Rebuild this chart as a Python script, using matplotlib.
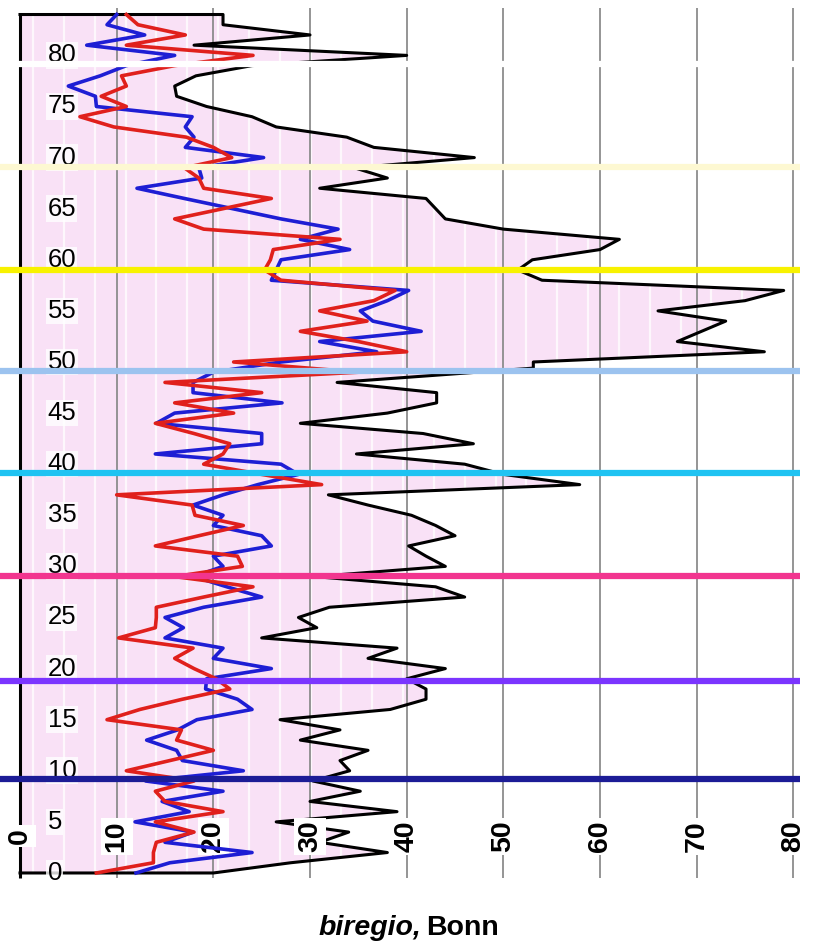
import numpy as np
import matplotlib.pyplot as plt

plt.rcParams['font.family'] = ['Liberation Sans', 'DejaVu Sans']

# depth (y) axis, one sample per unit for the red and blue series
depth = list(range(0, 85))

blue = [12, 15.5, 24, 15, 17.9, 11.9, 17.5, 14.7, 21, 13,
        23.1, 16.8, 16.2, 13.1, 16.3, 18.3, 24, 22.5, 19.2, 19.3,
        26, 20, 21, 15, 16.9, 15, 19, 25, 21.4, 18,
        21, 20, 26, 25, 20, 21, 17.9, 21, 24.6, 28.8,
        27, 14, 25, 25, 14.1, 16, 27.1, 17.9, 17.9, 20,
        27, 36.9, 31, 41.5, 36.5, 35.2, 38, 40.2, 26, 26.5,
        27, 34.1, 29, 32.9, 27, 22, 17, 12.1, 18.8, 18.5,
        25.2, 17.1, 18, 17.1, 17.8, 7.9, 7.8, 5, 8.3, 11,
        16, 6.9, 12.9, 9, 10]

red = [7.9, 13.8, 13.8, 14.1, 18, 14, 21, 15, 14, 18,
       11, 15.5, 20, 16.2, 16.7, 9, 12.4, 16.8, 21.7, 20.3,
       18, 16, 17.9, 10.2, 14, 14.1, 14.1, 19, 24.1, 16,
       23, 22.5, 14, 18.5, 23.1, 18.1, 17.8, 10, 31.2, 25,
       19, 21, 21.7, 18, 14, 22.1, 16, 25, 15, 35,
       22.1, 40, 35, 29, 35.9, 31, 36.6, 38.8, 27, 25.3,
       25.9, 26.2, 33.1, 19, 16, 21, 26, 19, 18.5, 17,
       21.9, 20, 17.2, 9.7, 6.2, 11, 8.4, 11, 10.5, 16,
       24.1, 11, 17.1, 12.2, 11]

# black profile has its own depths (one short vertical step near 49-50)
black_depth = list(range(0, 49)) + [49.4] + list(range(50, 85))
black = [20, 28, 38, 31, 34, 26.5, 39, 30, 35.2, 30.3,
         34.1, 33.1, 36, 29, 33.1, 26.9, 38.3, 42, 42, 40,
         44, 36, 39, 25, 30.7, 28.8, 32, 46, 43, 30.5,
         44, 42, 40.2, 45, 43, 40.5, 36, 31.9, 57.9, 50,
         46, 34.8, 46.9, 41.7, 29, 38, 43.1, 43.1, 32.8, 53.1,
         53.1, 77, 68, 70.5, 73, 66, 75, 79, 54, 51.5,
         53, 60, 62, 50, 44, 43, 42, 31, 38, 34.6,
         47, 36.6, 33.8, 26.5, 24, 19.3, 16.2, 16, 18.2, 24,
         40, 18, 30, 21, 21]

# horizontal marker lines
band_depth = [9.2, 18.8, 29.05, 39.1, 49.15, 59.0, 69.1, 79.2]
band_colors = ['#1c1c96', '#7b35ff', '#f2358f', '#1fc3f2', '#9cc3ef',
               '#f8f200', '#fdf8d2', '#ffffff']

x_ticks = list(range(0, 81, 10))
y_ticks = list(range(0, 81, 5))

fig = plt.figure(figsize=(8.27, 9.44), dpi=100)
ax = fig.add_axes([0, 0, 1, 1])
ax.set_xlim(-2.07, 83.48)
ax.set_ylim(-6.95, 85.42)
ax.axis('off')

# pink area between the axis and the black profile
px = [0] + black + [0]
py = [0] + black_depth + [84]
poly = ax.fill(px, py, color='#f9e1f6', lw=0, zorder=1)[0]
stripes = ax.vlines(np.arange(1.35, 81, 3.19), 0, 84, color='white',
                    lw=1.6, alpha=0.75, zorder=1.5)
stripes.set_clip_path(poly)

# grid
ax.vlines(x_ticks[1:], -0.5, 84.6, color='#8c8c8c', lw=1.3, zorder=2)
ax.vlines(0, -0.5, 84.1, color='black', lw=2.2, zorder=3)

ax.plot(px, py, color='black', lw=2.2, zorder=3)

for v in x_ticks:
    ax.text(v, 3.6, str(v), rotation=90, ha='center', va='center',
            fontsize=20.5, fontweight='bold', zorder=3.5,
            bbox=dict(facecolor='white', edgecolor='none', pad=2))

ax.plot(blue, depth, color='#1e1ed4', lw=2.6, zorder=4)
ax.plot(red, depth, color='#e0201c', lw=2.6, zorder=4.5)

for v in y_ticks:
    ax.text(2.85, v, str(v), ha='left', va='center', fontsize=18.5, zorder=6,
            bbox=dict(facecolor='white', edgecolor='none', alpha=0.8, pad=1))

ax.hlines(band_depth, -2.07, 80.7, colors=band_colors, lw=4.5, zorder=7)

fig.text(421 / 827, 0.0095, 'biregio,', ha='right', va='baseline',
         fontsize=20.5, fontweight='bold', fontstyle='italic')
fig.text(426 / 827, 0.0095, 'Bonn', ha='left', va='baseline',
         fontsize=20.5, fontweight='bold')

fig.savefig('out.png', dpi=100)
